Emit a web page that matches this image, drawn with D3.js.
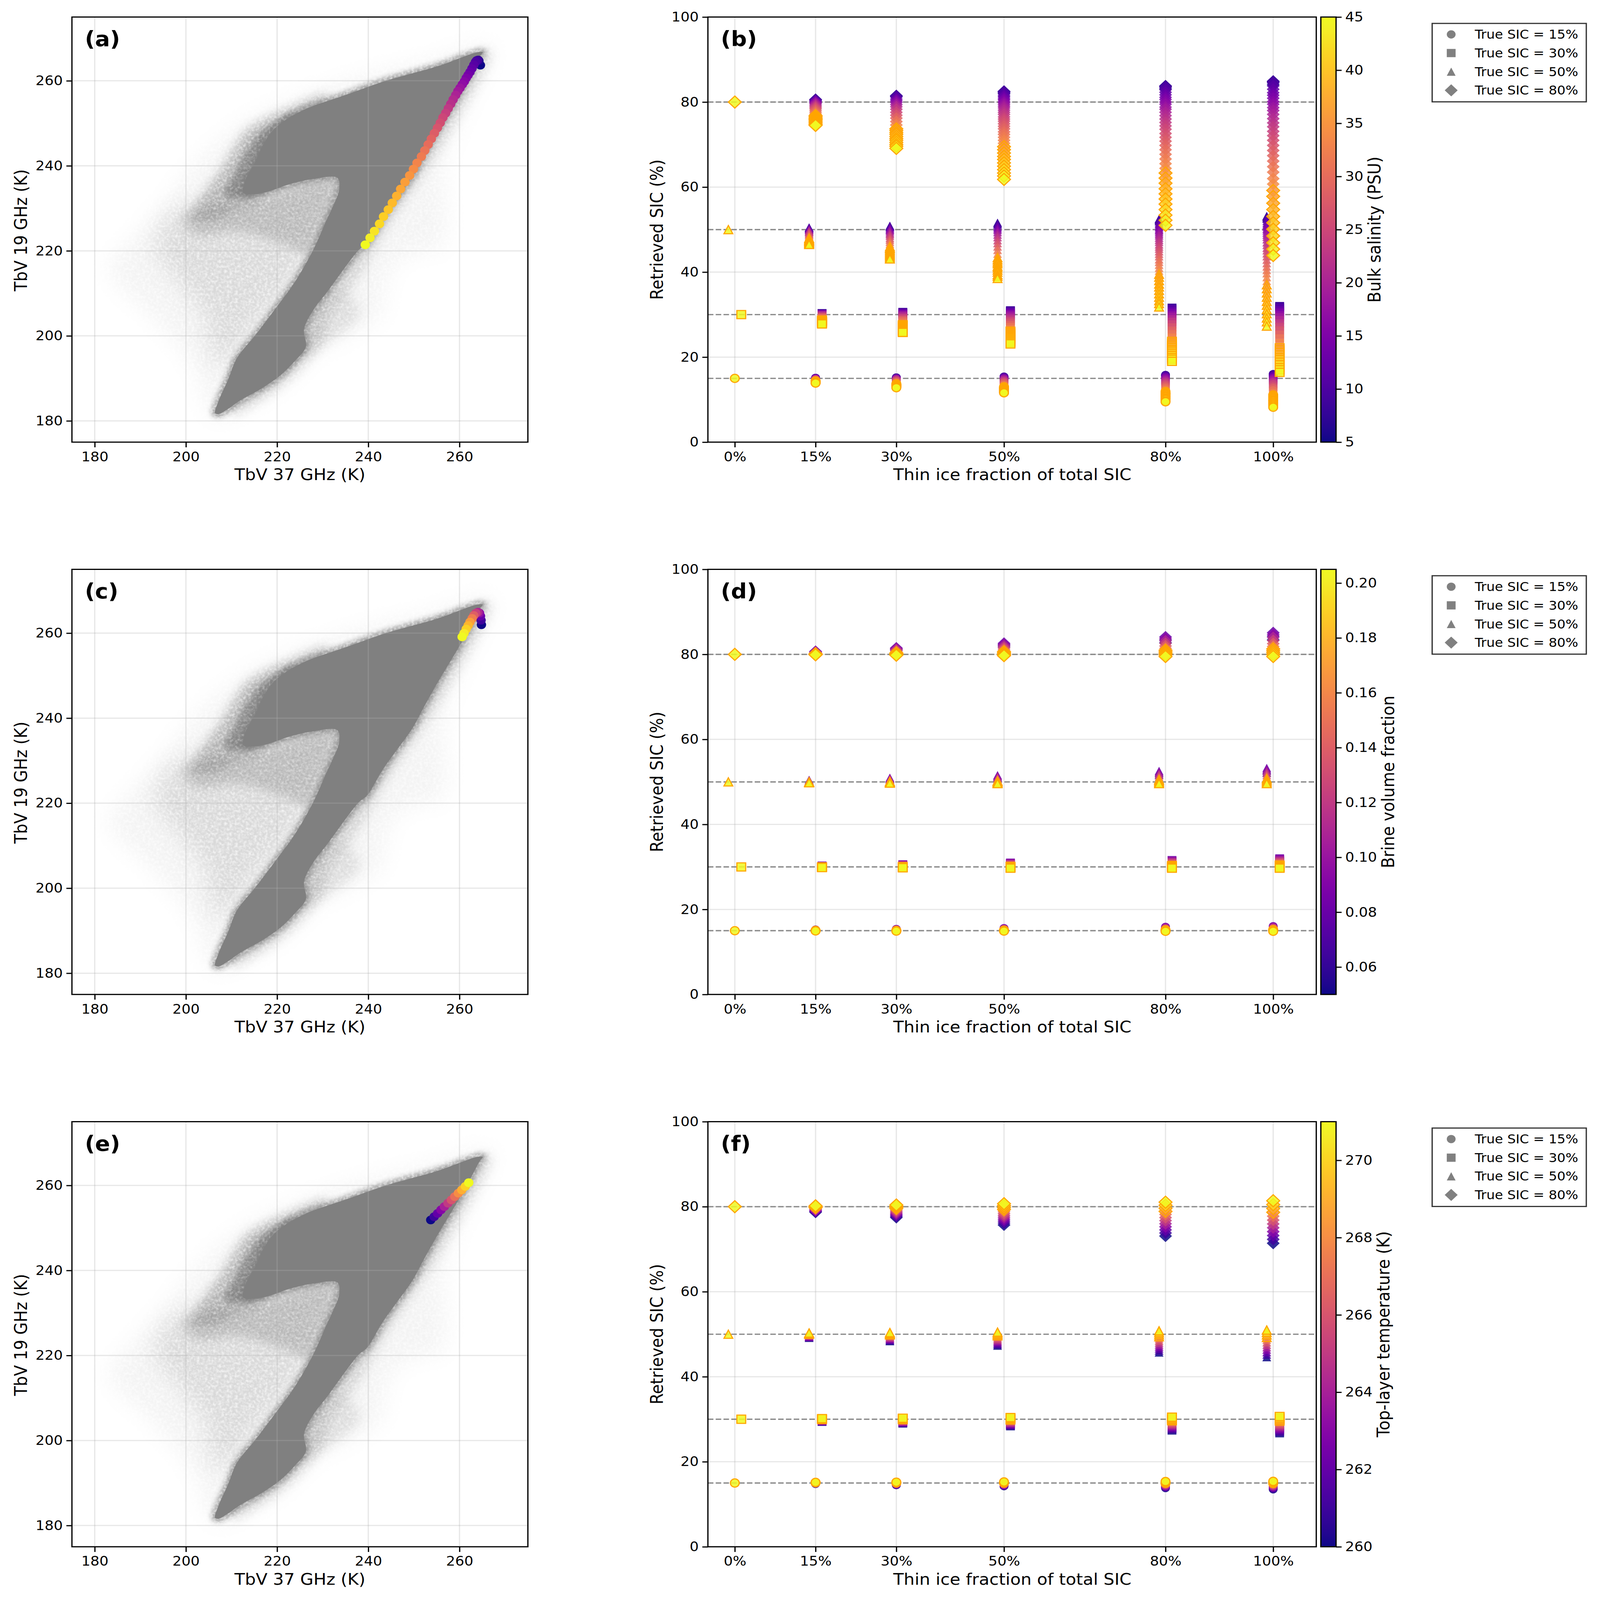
<!DOCTYPE html>
<html>
<head>
<meta charset="utf-8">
<script src="https://cdn.jsdelivr.net/npm/d3@7"></script>
<style>
    html, body { margin: 0; background: #fff; overflow: hidden; }
    svg { display: block; }
    text { font-family: "DejaVu Sans", sans-serif; fill: #000; }
</style>
</head>
<body>
<div id="chart"></div>
<script>
// Outlines of the gray TbV cloud as [Tb37, Tb19]
const cloudCore = [[206.4,181.8],[207.2,184.8],[209.2,189.6],[211.2,194.8],[215.1,200],[219.9,206.8],[223.9,212.7],[227.9,220.2],[230.7,226.9],[232.3,230.6],[233.6,234.3],[233.2,237.2],[227.9,236.9],[223.1,235.8],[216.7,233.6],[212.6,233.6],[213,236.5],[215.2,241],[217.2,245.5],[219.9,249.2],[225.5,253],[235.1,256.7],[243.9,260],[255.1,263.4],[263.9,266.7],[265.1,266.7],[264.5,265.8],[261.4,259.6],[258.7,254.6],[255.5,248.9],[252.6,243.4],[249.6,237.5],[245.9,232],[243,227.6],[239.8,221.9],[237.9,220.2],[235.1,216.4],[231.1,210.5],[227.9,206],[225.9,201.5],[226.3,197.4],[223.9,194.1],[220.7,190.7],[216.7,187.7],[211.9,184.8],[208.8,182.5],[207.2,181.6]];
const cloudTailInner = [[208.5,233],[210.5,238],[213,243],[216,247.5],[220,250.5],[224,252.5],[222,244],[216,233.5]];
const cloudTail = [[201.2,228],[204,233.6],[208,239.5],[210.4,244],[213.5,248.5],[218.3,251.5],[223.1,253.7],[231.1,256.7],[219.9,241.8],[216.7,232.5],[210.4,229.5],[206.4,227.6]];
const cloudVoidTop = [[199.2,227.6],[205.6,229.9],[216.7,232.8],[227.9,237.7],[233.9,238],[233.9,233.6],[230.7,226.1],[227.1,219.4],[221.5,221.7],[211.2,224.6],[202.4,223.9]];
const cloudVoid = [[194.4,225.4],[199.2,230.6],[210.4,231.3],[227.9,237.3],[234.3,238],[231.1,226.9],[223.9,213.5],[218.3,206],[211.2,197],[207.2,192.6],[204,204.5],[199.2,212],[193.6,219.4]];
const cloudOuter = [[206.4,180.7],[201.6,193.3],[192.8,204.5],[183.2,215.7],[188,222.4],[194.4,229.9],[201.6,239.5],[208,246.2],[215.1,251.5],[224.7,255.9],[239.1,261.1],[255.1,265.2],[263.1,268.2],[267.1,267.9],[266.3,264.9],[261.5,254.4],[256.7,241.8],[255.9,220.9],[248.7,219.4],[243.9,213.5],[242.3,204.5],[235.1,200],[227.9,195.6],[221.5,188.9],[213.5,183.7]];
const cloudRightHalo = [[265.5,267.5],[266.8,266.5],[264.3,260],[260,252],[256.3,245],[252,238],[247.5,231],[243.5,224.5],[240,218],[236,211],[232,206],[230,200],[228.5,196.5],[224,191],[218,186],[210,181.5],[210,185],[220,195],[232,215],[250,245],[262,262]];
const cloudRightPatch = [[224.3,198],[226,204],[230,209],[235.5,210],[238,205],[232,199],[227,196]];

// Panel (a): salinity run in TbV space
const salinityRun = [5,6,7,8,9,10,11,12,13,14,15,16,17,18,19,20,21,22,23,24,25,26,27,28,29,30,31,32,33,34,35,36,37,38,39,40,41,42,43,44,45];
const salinityTb37 = [264.59,264.26,264.1,263.98,263.75,263.51,263.15,262.73,262.31,261.89,261.48,261.06,260.62,260.12,259.64,259.17,258.61,258.08,257.55,256.97,256.36,255.78,255.16,254.49,253.82,253.13,252.38,251.65,250.68,249.9,249.07,248.05,247.09,246.22,245.26,244.38,243.34,242.46,241.34,240.38,239.34];
const salinityTb19 = [263.67,264.7,264.88,264.85,264.75,264.42,263.73,262.89,262.06,261.36,260.67,259.83,259.14,258.31,257.56,256.64,255.6,254.55,253.52,252.38,251.35,250.1,248.91,247.66,246.35,245.01,243.6,242.18,240.68,239.23,237.73,236.18,234.55,232.91,231.27,229.7,228.06,226.35,224.63,223.07,221.43];

// Panel (c): brine volume run
const brineLevels = [0.05,0.065,0.08,0.095,0.11,0.125,0.14,0.155,0.17,0.18,0.19,0.2,0.205];
const brineTb37 = [264.81,264.73,264.6,264.4,264.06,263.6,263.14,262.78,262.3,261.9,261.47,261,260.58];
const brineTb19 = [261.97,263.03,264,264.7,264.92,264.7,264.14,263.45,262.6,261.78,260.95,259.97,259.11];

// Panel (e): top-layer temperature run
const tempLevels = [260,261,262,263,264,265,266,267,268,269,270,271];
const tempTb37 = [253.69,254.44,255.19,255.94,256.69,257.47,258.22,258.97,259.75,260.5,261.28,262.03];
const tempTb19 = [251.88,252.63,253.41,254.25,255.02,255.83,256.58,257.36,258.19,258.94,259.78,260.64];

// Shared by the SIC panels
const thinFractions = [0,15,30,50,80,100];
const trueSic = [15,30,50,80];
const stackSalinity = [5,7,9,11,13,15,17,19,21,23,25,27,29,31,33,35,36,37,38,39,40,41,42,43,44,45];

// Retrieved SIC for each thin fraction, one list per true SIC. f=0 collapses to one point.
// The long stacks are read at every salinity of salinityRun, the short ones at stackSalinity.
const salinitySic15 = [[15],
    [15.1,15.1,15.1,15.1,15,15,14.9,14.9,14.8,14.8,14.7,14.7,14.6,14.5,14.4,14.4,14.3,14.3,14.2,14.2,14.1,14.1,14,14,13.9,13.9],
    [15.2,15.2,15.2,15.1,15,15,14.9,14.8,14.7,14.6,14.5,14.3,14.2,14,13.9,13.7,13.6,13.5,13.4,13.3,13.3,13.2,13.1,13,12.9,12.8],
    [15.3,15.4,15.4,15.3,15.2,15,14.9,14.8,14.6,14.4,14.2,14,13.8,13.5,13.3,13,12.9,12.7,12.6,12.5,12.3,12.2,12,11.9,11.7,11.6],
    [15.7,15.8,15.8,15.6,15.4,15.2,15,14.7,14.4,14.1,13.8,13.5,13.1,12.7,12.3,11.9,11.6,11.4,11.2,10.9,10.7,10.4,10.2,10,9.7,9.5],
    [15.8,16,16,15.8,15.5,15.2,15,14.7,14.3,14,13.6,13.1,12.7,12.2,11.6,11.1,10.8,10.5,10.2,9.9,9.7,9.4,9.1,8.8,8.5,8.2]];
const salinitySic30 = [[30],
    [30.3,30.3,30.3,30.2,30.1,30.1,30,29.9,29.8,29.6,29.5,29.4,29.2,29.1,28.9,28.7,28.7,28.6,28.5,28.4,28.3,28.2,28.1,28,27.9,27.8],
    [30.5,30.6,30.6,30.5,30.3,30.1,30,29.8,29.6,29.3,29.1,28.8,28.6,28.3,27.9,27.6,27.4,27.2,27.1,26.9,26.7,26.5,26.3,26.1,26,25.8],
    [30.8,31,31,30.8,30.5,30.2,30,29.7,29.3,28.9,28.5,28.1,27.6,27.1,26.6,26.1,25.8,25.5,25.2,24.9,24.6,24.3,24,23.7,23.4,23.1],
    [31.3,31.6,31.6,31.3,30.8,30.4,29.9,29.5,28.9,28.3,27.7,27,26.2,25.4,24.6,23.7,23.3,22.8,22.3,21.8,21.4,20.9,20.4,19.9,19.5,19],
    [31.7,32,32,31.6,31,30.5,29.9,29.4,28.7,27.9,27.1,26.3,25.3,24.4,23.3,22.2,21.7,21.1,20.5,19.9,19.4,18.8,18.2,17.5,17,16.4]];
const salinitySic50 = [[50],
    [50.4,50.5,50.5,50.4,50.2,50.1,50,49.8,49.6,49.5,49.3,49,48.8,48.5,48.3,48,47.9,47.7,47.5,47.4,47.3,47.1,47,46.8,46.7,46.5],
    [50.7,50.9,50.9,50.7,50.4,50.1,49.9,49.6,49.2,48.9,48.5,48,47.6,47.1,46.6,46,45.7,45.5,45.2,44.9,44.6,44.3,44,43.7,43.4,43.1],
    [51.3,51.6,51.6,51.2,50.7,50.3,49.9,49.4,48.8,48.2,47.5,46.8,46,45.2,44.3,43.4,42.9,42.4,42,41.4,41,40.5,40,39.4,39,38.5],
    [52.1,52.4,52.5,52.5,52.5,52.3,51.9,51.5,51.2,50.8,50.5,50.1,49.8,49.4,49,48.6,48.1,47.6,47.1,46.5,46,45.5,44.9,44.3,43.7,43,42.4,41.7,41,40.3,39.5,38.8,38,37.2,36.5,35.7,34.9,34.1,33.3,32.6,31.8],
    [52.7,53.1,53.2,53.2,53.1,52.9,52.5,52,51.5,51.1,50.7,50.2,49.8,49.3,48.8,48.3,47.7,47,46.4,45.7,45.1,44.4,43.7,42.9,42.1,41.3,40.5,39.7,38.8,37.9,37,36.1,35.1,34.1,33.1,32.2,31.2,30.2,29.2,28.3,27.3]];
const salinitySic80 = [[80],
    [80.5,80.6,80.6,80.4,80.2,80,79.8,79.6,79.3,79,78.7,78.4,78,77.6,77.2,76.8,76.6,76.3,76.1,75.9,75.7,75.4,75.2,74.9,74.7,74.5],
    [81.3,81.5,81.5,81.2,80.7,80.3,79.9,79.4,78.9,78.3,77.6,76.9,76.2,75.4,74.6,73.7,73.3,72.8,72.4,71.9,71.4,71,70.5,70,69.6,69.1],
    [82.1,82.4,82.5,82.5,82.5,82.3,81.9,81.5,81.2,80.8,80.5,80.1,79.8,79.4,79,78.6,78.1,77.6,77.1,76.5,76,75.5,74.9,74.3,73.7,73,72.4,71.7,71,70.3,69.5,68.8,68,67.2,66.5,65.7,64.9,64.1,63.3,62.6,61.8],
    [83.1,83.6,83.8,83.8,83.7,83.4,82.9,82.3,81.7,81.1,80.6,80,79.5,78.8,78.3,77.6,76.8,76,75.2,74.4,73.6,72.6,71.7,70.8,69.8,68.8,67.7,66.6,65.5,64.4,63.3,62.1,60.9,59.6,58.4,57.2,56,54.7,53.4,52.2,51],
    [84.1,84.7,84.9,84.9,84.8,84.5,83.8,83,82.2,81.6,80.9,80.1,79.5,78.7,78,77.1,76.1,75.1,74.2,73.1,72.1,71,69.8,68.6,67.4,66.1,64.8,63.5,62,60.7,59.2,57.8,56.2,54.7,53.1,51.6,50.1,48.5,46.9,45.4,43.9]];

const brineSic15 = [[15],
    [15.16,15.21,15.25,15.23,15.19,15.15,15.11,15.08,15.05,15.02,15,14.97,14.95],
    [15.25,15.33,15.4,15.36,15.3,15.24,15.17,15.11,15.06,15.02,14.98,14.94,14.9],
    [15.39,15.5,15.6,15.54,15.46,15.37,15.28,15.19,15.12,15.07,15.01,14.96,14.9],
    [15.59,15.74,15.9,15.82,15.69,15.55,15.42,15.29,15.19,15.1,15.02,14.93,14.85],
    [15.7,15.88,16.06,15.96,15.82,15.66,15.51,15.36,15.24,15.15,15.05,14.96,14.85]];
const brineSic30 = [[30],
    [30.17,30.23,30.3,30.26,30.21,30.15,30.09,30.04,29.99,29.96,29.92,29.89,29.85],
    [30.36,30.48,30.6,30.54,30.44,30.34,30.23,30.14,30.06,29.99,29.93,29.86,29.8],
    [30.61,30.8,31,30.9,30.74,30.57,30.4,30.25,30.12,30.01,29.91,29.8,29.7],
    [31.03,31.32,31.6,31.45,31.22,30.97,30.73,30.5,30.31,30.16,30,29.85,29.7],
    [31.31,31.66,32,31.82,31.54,31.24,30.94,30.67,30.44,30.25,30.07,29.88,29.7]];
const brineSic50 = [[50],
    [50.29,50.4,50.5,50.44,50.36,50.27,50.18,50.09,50.02,49.97,49.91,49.86,49.8],
    [50.61,50.8,51,50.9,50.74,50.57,50.4,50.25,50.12,50.01,49.91,49.8,49.7],
    [51,51.3,51.6,51.44,51.2,50.94,50.68,50.44,50.24,50.08,49.92,49.76,49.6],
    [51.7,52.15,52.6,52.36,52,51.61,51.22,50.86,50.56,50.32,50.08,49.84,49.6],
    [52.19,52.75,53.3,53,52.56,52.08,51.6,51.15,50.78,50.49,50.19,49.9,49.6]];
const brineSic80 = [[80],
    [80.46,80.58,80.7,80.64,80.54,80.44,80.33,80.24,80.16,80.09,80.03,79.96,79.9],
    [81,81.25,81.5,81.36,81.16,80.94,80.72,80.51,80.34,80.21,80.07,79.94,79.8],
    [81.73,82.17,82.6,82.37,82.02,81.64,81.27,80.92,80.63,80.4,80.16,79.93,79.7],
    [82.72,83.41,84.1,83.73,83.18,82.58,81.98,81.43,80.97,80.6,80.24,79.87,79.5],
    [83.42,84.26,85.1,84.65,83.98,83.25,82.52,81.85,81.29,80.84,80.4,79.95,79.5]];

const tempSic15 = [[15],
    [14.8,14.83,14.86,14.9,14.93,14.96,14.99,15.02,15.05,15.09,15.12,15.15],
    [14.5,14.56,14.63,14.69,14.75,14.82,14.88,14.95,15.01,15.07,15.14,15.2],
    [14.25,14.34,14.43,14.52,14.61,14.7,14.8,14.89,14.98,15.07,15.16,15.25],
    [13.8,13.94,14.08,14.22,14.36,14.5,14.65,14.79,14.93,15.07,15.21,15.35],
    [13.5,13.67,13.85,14.02,14.19,14.36,14.54,14.71,14.88,15.05,15.23,15.4]];
const tempSic30 = [[30],
    [29.4,29.47,29.54,29.6,29.67,29.74,29.81,29.88,29.95,30.01,30.08,30.15],
    [29,29.11,29.23,29.34,29.45,29.57,29.68,29.8,29.91,30.02,30.14,30.25],
    [28.35,28.54,28.72,28.91,29.1,29.28,29.47,29.65,29.84,30.03,30.21,30.4],
    [27.35,27.64,27.92,28.21,28.5,28.78,29.07,29.35,29.64,29.93,30.21,30.5],
    [26.7,27.06,27.42,27.78,28.14,28.5,28.85,29.21,29.57,29.93,30.29,30.65]];
const tempSic50 = [[50],
    [49.15,49.25,49.36,49.46,49.57,49.67,49.78,49.88,49.99,50.09,50.2,50.3],
    [48.35,48.54,48.72,48.91,49.1,49.28,49.47,49.65,49.84,50.03,50.21,50.4],
    [47.3,47.59,47.88,48.17,48.46,48.75,49.05,49.34,49.63,49.92,50.21,50.5],
    [45.7,46.16,46.63,47.09,47.55,48.02,48.48,48.95,49.41,49.87,50.34,50.8],
    [44.6,45.18,45.76,46.35,46.93,47.51,48.09,48.67,49.25,49.84,50.42,51]];
const tempSic80 = [[80],
    [78.7,78.84,78.97,79.11,79.25,79.38,79.52,79.65,79.79,79.93,80.06,80.2],
    [77.45,77.72,77.99,78.25,78.52,78.79,79.06,79.33,79.6,79.86,80.13,80.4],
    [75.7,76.15,76.61,77.06,77.52,77.97,78.43,78.88,79.34,79.79,80.25,80.7],
    [73.1,73.82,74.55,75.27,75.99,76.72,77.44,78.17,78.89,79.61,80.34,81.06],
    [71.4,72.31,73.22,74.13,75.04,75.95,76.85,77.76,78.67,79.58,80.49,81.4]];

const tbTicks = [180,200,220,240,260];
const sicTicks = [0,20,40,60,80,100];
const salinityTicks = [5,10,15,20,25,30,35,40,45];
const brineTicks = [0.06,0.08,0.1,0.12,0.14,0.16,0.18,0.2];
const tempTicks = [260,262,264,266,268,270];

// Layout in pixels of the 4204x4509 figure
const leftX = 189, midX = 1860, barX = 3470.5, legendX = 3763;
const boxH = 1198, leftW = 1198, midW = 1598.5, barW = 40;
const rowTops = [48, 1604.5, 3161];
const tickLen = 14.6, lineW = 3.3, tickFont = 37.5, labelFont = 45;

// The window may be smaller than the figure, so the figure fills whatever is there
const svg = d3.select("#chart").append("svg")
    .attr("width", window.innerWidth)
    .attr("height", window.innerHeight)
    .attr("viewBox", "0 0 4204 4509")
    .attr("preserveAspectRatio", "none");

const defs = svg.append("defs");

// Soft edge with a speckle, stands in for the millions of faint dots
function addCloudFilter(id, blur, seed) {
    const filter = defs.append("filter")
        .attr("id", id)
        .attr("filterUnits", "userSpaceOnUse")
        .attr("x", -200).attr("y", -200).attr("width", 1700).attr("height", 1700);
    filter.append("feGaussianBlur").attr("in", "SourceGraphic").attr("stdDeviation", blur).attr("result", "soft");
    filter.append("feTurbulence").attr("type", "fractalNoise").attr("baseFrequency", 0.14).attr("numOctaves", 2).attr("seed", seed).attr("result", "noise");
    filter.append("feColorMatrix").attr("in", "noise").attr("type", "matrix")
        .attr("values", "0 0 0 0 0  0 0 0 0 0  0 0 0 0 0  1.5 0 0 0 0.05").attr("result", "mask");
    filter.append("feComposite").attr("in", "soft").attr("in2", "mask").attr("operator", "in");
}
addCloudFilter("cloudWide", 30, 3);
addCloudFilter("cloudMid", 14, 7);
addCloudFilter("cloudEdge", 7, 11);

function drawFrame(g, width) {
    g.append("rect")
        .attr("width", width)
        .attr("height", boxH)
        .attr("fill", "none")
        .attr("stroke", "#000")
        .attr("stroke-width", lineW);
}

function styleAxis(axisG) {
    axisG.select(".domain").remove();
    axisG.selectAll(".tick line").attr("stroke", "#000").attr("stroke-width", lineW);
    axisG.selectAll(".tick text").attr("font-family", "DejaVu Sans").attr("font-size", tickFont);
}

function drawGrid(g, xScale, yScale, xTicks, yTicks, width) {
    const grid = g.append("g")
        .attr("stroke", "#b0b0b0")
        .attr("stroke-opacity", 0.3)
        .attr("stroke-width", lineW);
    grid.selectAll(".gx").data(xTicks).join("line")
        .attr("x1", d => xScale(d)).attr("x2", d => xScale(d))
        .attr("y1", 0).attr("y2", boxH);
    grid.selectAll(".gy").data(yTicks).join("line")
        .attr("x1", 0).attr("x2", width)
        .attr("y1", d => yScale(d)).attr("y2", d => yScale(d));
}

function drawAxes(g, xScale, yScale, xTicks, yTicks, xFormat) {
    const xAxis = g.append("g")
        .attr("transform", `translate(0,${boxH})`)
        .call(d3.axisBottom(xScale).tickValues(xTicks).tickFormat(xFormat).tickSize(tickLen).tickPadding(12.4));
    styleAxis(xAxis);
    const yAxis = g.append("g")
        .call(d3.axisLeft(yScale).tickValues(yTicks).tickFormat(d3.format("d")).tickSize(tickLen).tickPadding(9.4));
    styleAxis(yAxis);
}

function axisText(g, x, y, text, rotate) {
    g.append("text")
        .attr("transform", `translate(${x},${y})` + (rotate ? " rotate(-90)" : ""))
        .attr("text-anchor", "middle")
        .attr("dy", "0.35em")
        .attr("font-size", labelFont)
        .text(text);
}

function panelLetter(g, text) {
    g.append("text")
        .attr("x", 34)
        .attr("y", 82)
        .attr("font-size", 58.3)
        .attr("font-weight", "bold")
        .text(text);
}

function drawScatterPanel(top, letter, runX, runY, runLevels, levelDomain) {
    const g = svg.append("g").attr("transform", `translate(${leftX},${top})`);
    const xScale = d3.scaleLinear().domain([175, 275]).range([0, leftW]);
    const yScale = d3.scaleLinear().domain([175, 275]).range([boxH, 0]);
    const color = d3.scaleSequential(d3.interpolatePlasma).domain(levelDomain);
    const outline = d3.line().x(d => xScale(d[0])).y(d => yScale(d[1])).curve(d3.curveCatmullRomClosed.alpha(0.5));

    const clipId = "clip" + letter;
    defs.append("clipPath").attr("id", clipId).append("rect").attr("width", leftW).attr("height", boxH);
    const cloud = g.append("g").attr("clip-path", `url(#${clipId})`).attr("fill", "#808080");

    cloud.append("path").attr("d", outline(cloudOuter)).attr("opacity", 0.09).attr("filter", "url(#cloudWide)");
    cloud.append("path").attr("d", outline(cloudVoid)).attr("opacity", 0.22).attr("filter", "url(#cloudWide)");
    cloud.append("path").attr("d", outline(cloudVoidTop)).attr("opacity", 0.38).attr("filter", "url(#cloudMid)");
    cloud.append("path").attr("d", outline(cloudRightPatch)).attr("opacity", 0.2).attr("filter", "url(#cloudMid)");
    cloud.append("path").attr("d", outline(cloudRightHalo)).attr("opacity", 0.3).attr("filter", "url(#cloudMid)");
    cloud.append("path").attr("d", outline(cloudTail)).attr("opacity", 0.55).attr("filter", "url(#cloudMid)");
    cloud.append("path").attr("d", outline(cloudTailInner)).attr("opacity", 0.85).attr("filter", "url(#cloudEdge)");
    cloud.append("path").attr("d", outline(cloudCore))
        .attr("stroke", "#808080").attr("stroke-width", 18).attr("opacity", 0.8)
        .attr("filter", "url(#cloudEdge)");
    cloud.append("path").attr("d", outline(cloudCore));

    drawGrid(g, xScale, yScale, tbTicks, tbTicks, leftW);

    g.selectAll(".run").data(runLevels).join("circle")
        .attr("cx", (d, i) => xScale(runX[i]))
        .attr("cy", (d, i) => yScale(runY[i]))
        .attr("r", 12.3)
        .attr("fill", d => color(d));

    drawFrame(g, leftW);
    drawAxes(g, xScale, yScale, tbTicks, tbTicks, d3.format("d"));
    axisText(g, 599, 1289, "TbV 37 GHz (K)", false);
    axisText(g, -134, 601, "TbV 19 GHz (K)", true);
    panelLetter(g, `(${letter})`);
}

// Marker shapes are matplotlib's o s ^ D at the same nominal size
function markerPath(sic) {
    const r = 11.6;
    if (sic === 15) {
        const path = d3.path();
        path.arc(0, 0, r, 0, 2 * Math.PI);
        path.closePath();
        return path.toString();
    }
    if (sic === 30) return `M${-r},${-r}H${r}V${r}H${-r}Z`;
    if (sic === 50) return `M0,${-r}L${r},${r}H${-r}Z`;
    return "M0,-17L17,0L0,17L-17,0Z";
}

const markerOffset = { 15: 0, 30: 1.2, 50: -1.2, 80: 0 };

function drawSicPanel(top, letter, tables, levelSets, levelDomain, edgeFrom, ticks, tickFormat, barLabel, barLabelX) {
    const g = svg.append("g").attr("transform", `translate(${midX},${top})`);
    const xScale = d3.scaleLinear().domain([-5, 108]).range([0, midW]);
    const yScale = d3.scaleLinear().domain([0, 100]).range([boxH, 0]);
    const color = d3.scaleSequential(d3.interpolatePlasma).domain(levelDomain);

    drawGrid(g, xScale, yScale, thinFractions, sicTicks, midW);

    g.append("g").selectAll("line").data(trueSic).join("line")
        .attr("x1", 0).attr("x2", midW)
        .attr("y1", d => yScale(d)).attr("y2", d => yScale(d))
        .attr("stroke", "#808080")
        .attr("stroke-opacity", 0.9)
        .attr("stroke-width", 3.8)
        .attr("stroke-dasharray", "14.5,6");

    trueSic.forEach((sic, s) => {
        thinFractions.forEach((frac, f) => {
            const values = tables[s][f];
            // A one-point list holds only the last level
            const levels = levelSets.find(l => l.length === values.length) || levelSets[0];
            const start = levels.length - values.length;
            g.append("g").selectAll("path").data(values).join("path")
                .attr("d", markerPath(sic))
                .attr("transform", d => `translate(${xScale(frac + markerOffset[sic])},${yScale(d)})`)
                .attr("fill", (d, i) => color(levels[start + i]))
                .attr("fill-opacity", 0.85)
                .attr("stroke", (d, i) => levels[start + i] >= edgeFrom ? "orange" : "none")
                .attr("stroke-width", 3);
        });
    });

    drawFrame(g, midW);
    drawAxes(g, xScale, yScale, thinFractions, sicTicks, d => d + "%");
    axisText(g, 800, 1289, "Thin ice fraction of total SIC", false);
    axisText(g, -134, 599, "Retrieved SIC (%)", true);
    panelLetter(g, `(${letter})`);

    // Colorbar
    const bar = svg.append("g").attr("transform", `translate(${barX},${top})`);
    const barScale = d3.scaleLinear().domain(levelDomain).range([boxH, 0]);
    const gradId = "grad" + letter;
    const grad = defs.append("linearGradient").attr("id", gradId)
        .attr("x1", 0).attr("y1", 1).attr("x2", 0).attr("y2", 0);
    grad.selectAll("stop").data(d3.range(65)).join("stop")
        .attr("offset", d => d / 64)
        .attr("stop-color", d => d3.interpolatePlasma(d / 64));
    bar.append("rect").attr("width", barW).attr("height", boxH).attr("fill", `url(#${gradId})`);
    drawFrame(bar, barW);
    const barAxis = bar.append("g")
        .attr("transform", `translate(${barW},0)`)
        .call(d3.axisRight(barScale).tickValues(ticks).tickFormat(tickFormat).tickSize(tickLen).tickPadding(9.4));
    styleAxis(barAxis);
    axisText(bar, barLabelX - barX, boxH / 2, barLabel, true);

    // Legend
    const legend = svg.append("g").attr("transform", `translate(${legendX},${top + 18})`);
    legend.append("rect")
        .attr("width", 405)
        .attr("height", 221)
        .attr("fill", "#fff")
        .attr("stroke", "#333")
        .attr("stroke-width", 3.3);
    trueSic.forEach((sic, i) => {
        const rowY = 31 + i * 52.5;
        legend.append("path")
            .attr("d", markerPath(sic))
            .attr("transform", `translate(50,${rowY})`)
            .attr("fill", "#808080");
        legend.append("text")
            .attr("x", 112)
            .attr("y", rowY)
            .attr("dy", "0.35em")
            .attr("font-size", 35)
            .text(`True SIC = ${sic}%`);
    });
}

drawScatterPanel(rowTops[0], "a", salinityTb37, salinityTb19, salinityRun, [5, 45]);
drawSicPanel(rowTops[0], "b", [salinitySic15, salinitySic30, salinitySic50, salinitySic80], [stackSalinity, salinityRun], [5, 45], 35,
    salinityTicks, d3.format("d"), "Bulk salinity (PSU)", 3611);

drawScatterPanel(rowTops[1], "c", brineTb37, brineTb19, brineLevels, [0.05, 0.205]);
drawSicPanel(rowTops[1], "d", [brineSic15, brineSic30, brineSic50, brineSic80], [brineLevels], [0.05, 0.205], 0.17,
    brineTicks, d3.format(".2f"), "Brine volume fraction", 3647);

drawScatterPanel(rowTops[2], "e", tempTb37, tempTb19, tempLevels, [260, 271]);
drawSicPanel(rowTops[2], "f", [tempSic15, tempSic30, tempSic50, tempSic80], [tempLevels], [260, 271], 268,
    tempTicks, d3.format("d"), "Top-layer temperature (K)", 3635);
</script>
</body>
</html>
